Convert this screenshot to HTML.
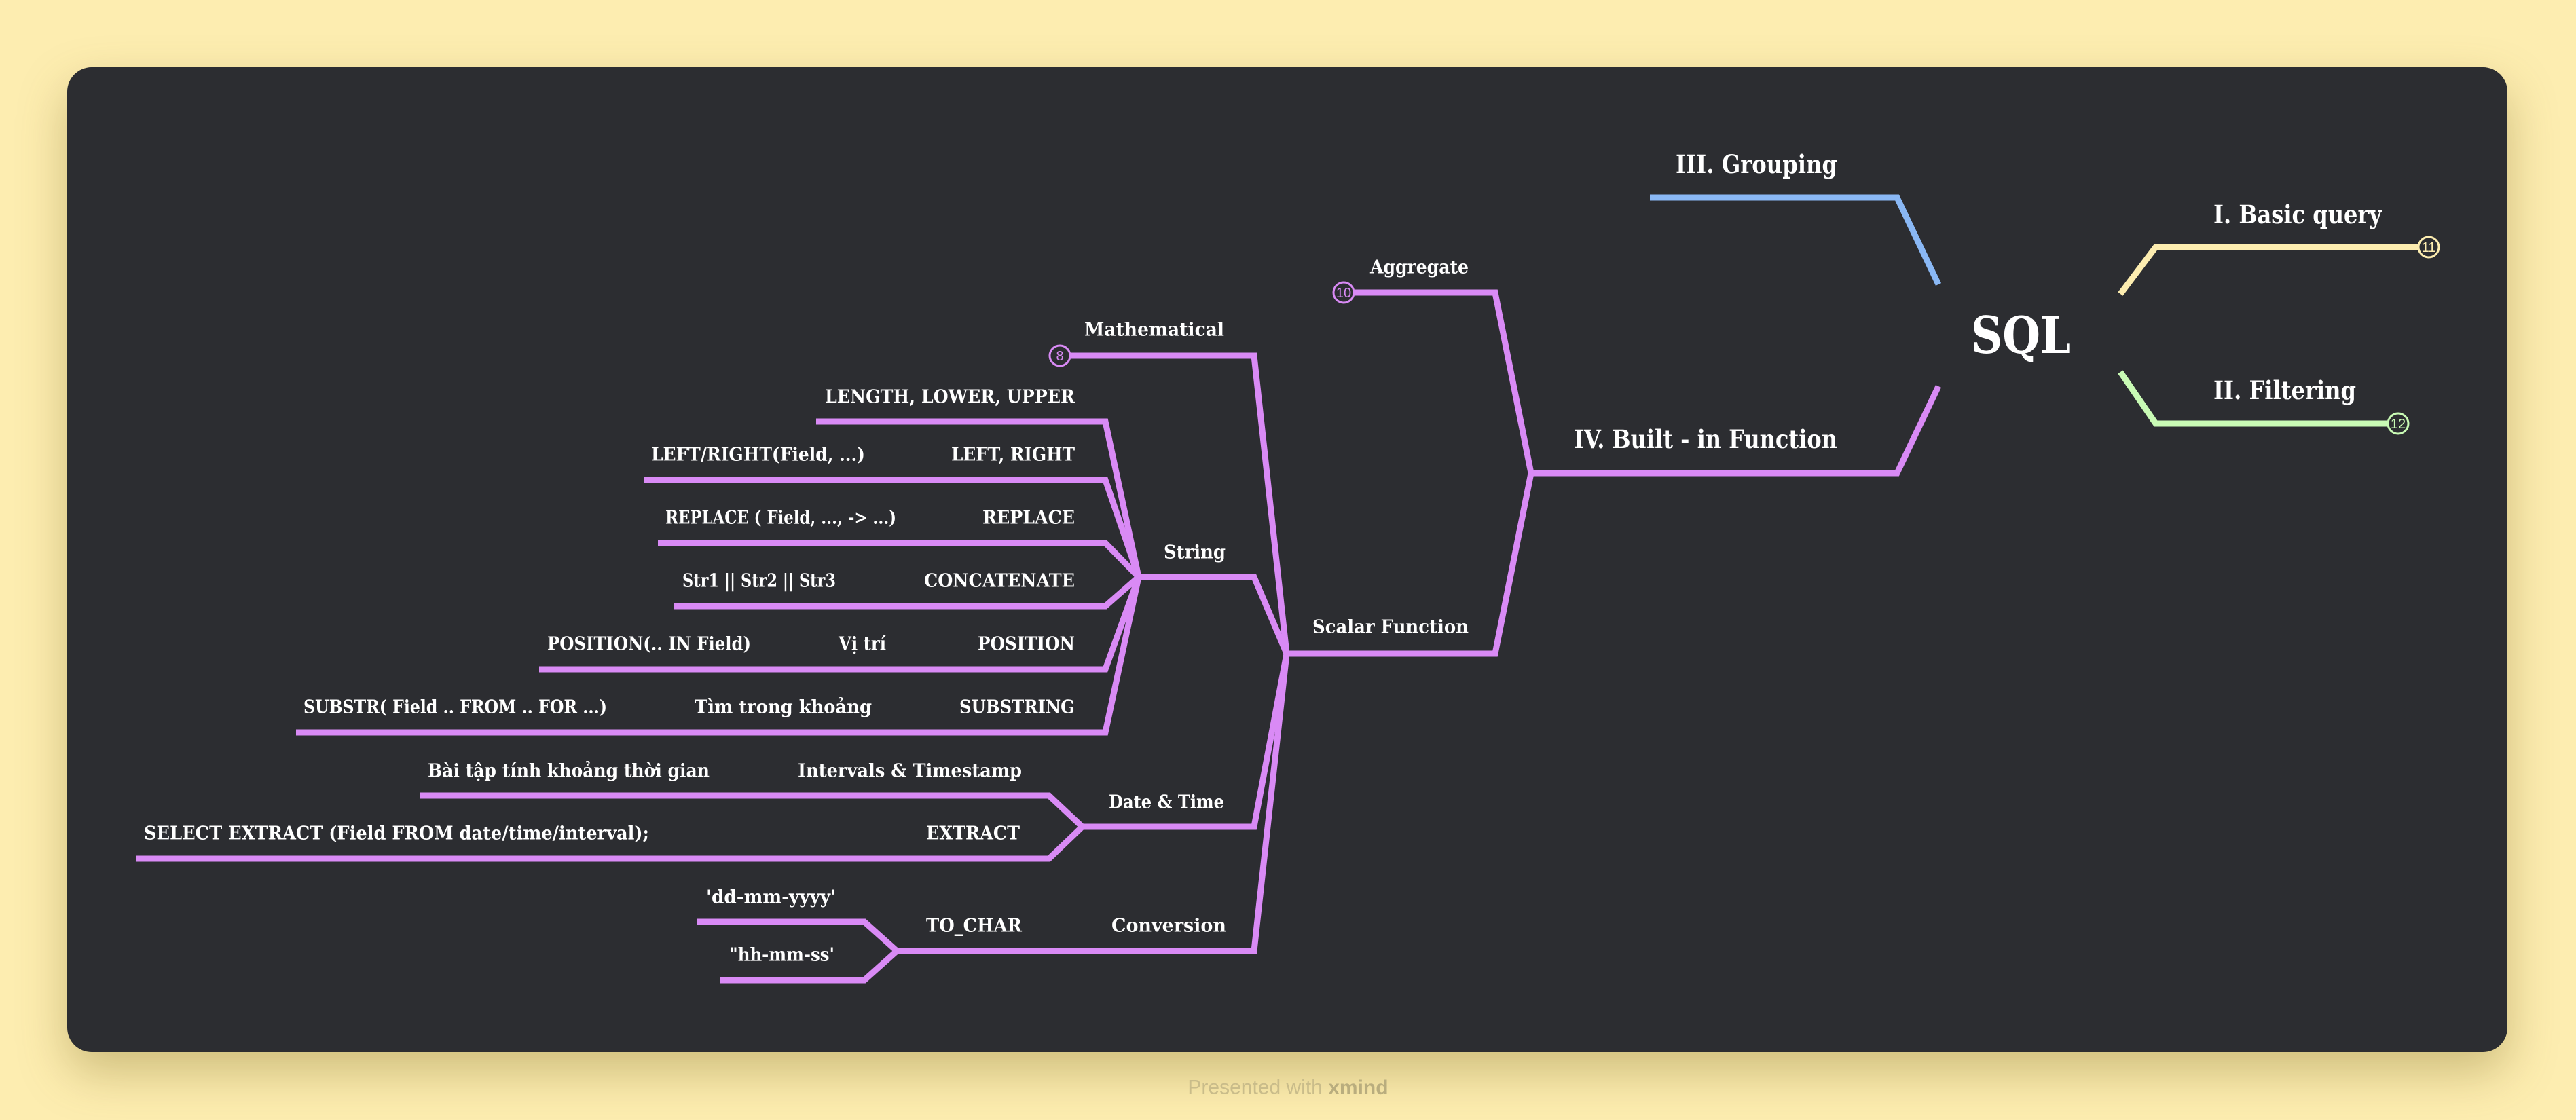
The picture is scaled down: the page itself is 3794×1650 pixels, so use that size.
<!DOCTYPE html>
<html><head><meta charset="utf-8"><style>
html,body{margin:0;padding:0;background:#fdedb0;width:3794px;height:1650px;overflow:hidden}
.card{position:absolute;left:99px;top:99px;width:3594px;height:1451px;background:#2c2d31;border-radius:36px;box-shadow:0 30px 70px rgba(120,100,30,0.35)}
svg{position:absolute;left:0;top:0}
text{font-family:"DejaVu Serif","Liberation Serif",serif;font-weight:bold;fill:#ffffff;dominant-baseline:central}
.s{font-size:27px}
.m{font-size:37px}
.n{font-family:"Liberation Sans",sans-serif;font-weight:normal;font-size:20px;text-anchor:middle}
</style></head><body>
<div class="card"></div>
<svg width="3794" height="1650" viewBox="0 0 3794 1650">
<g fill="none" stroke-width="9" stroke-linejoin="miter">
<polyline stroke="#8ab8f5" points="2430,291 2794,291 2855,419"/>
<polyline stroke="#fdedb0" points="3123,433 3175,364 3563,364"/>
<polyline stroke="#c9fbb5" points="3123,548 3175,624 3518,624"/>
<g stroke="#d98af5">
<polyline points="2855,569 2794,697 2255,697"/>
<polyline points="2255,697 2202,431 1993,431"/>
<polyline points="2255,697 2202,963 1895,963"/>
<polyline points="1895,963 1847,524 1576,524"/>
<polyline points="1895,963 1847,850 1677,850"/>
<polyline points="1895,963 1847,1218 1594,1218"/>
<polyline points="1895,963 1847,1401 1321,1401"/>
<polyline points="1677,850 1628,621 1202,621"/>
<polyline points="1677,850 1628,707 948,707"/>
<polyline points="1677,850 1628,800 969,800"/>
<polyline points="1677,850 1628,893 992,893"/>
<polyline points="1677,850 1628,986 794,986"/>
<polyline points="1677,850 1628,1079 436,1079"/>
<polyline points="1594,1218 1545,1172 618,1172"/>
<polyline points="1594,1218 1545,1265 200,1265"/>
<polyline points="1321,1401 1273,1358 1026,1358"/>
<polyline points="1321,1401 1273,1444 1060,1444"/>
</g>
</g>
<g stroke-width="3" fill="#2c2d31">
<circle cx="3577" cy="364" r="15" stroke="#fdedb0"/>
<circle cx="3532" cy="624" r="15" stroke="#c9fbb5"/>
<circle cx="1979" cy="431" r="15" stroke="#d98af5"/>
<circle cx="1561" cy="524" r="15" stroke="#d98af5"/>
</g>
<text class="n" x="3577" y="365" style="fill:#fdedb0">11</text>
<text class="n" x="3532" y="625" style="fill:#c9fbb5">12</text>
<text class="n" x="1979" y="432" style="fill:#d98af5">10</text>
<text class="n" x="1561" y="525" style="fill:#d98af5">8</text>

<text x="2903" y="494" style="font-size:75px" textLength="147" lengthAdjust="spacingAndGlyphs">SQL</text>
<text class="m" x="2468" y="242" textLength="238" lengthAdjust="spacingAndGlyphs">III. Grouping</text>
<text class="m" x="3260" y="316" textLength="248" lengthAdjust="spacingAndGlyphs">I. Basic query</text>
<text class="m" x="3260" y="575" textLength="210" lengthAdjust="spacingAndGlyphs">II. Filtering</text>
<text class="m" x="2318" y="647" textLength="388" lengthAdjust="spacingAndGlyphs">IV. Built - in Function</text>

<text class="s" x="2018" y="394" textLength="145" lengthAdjust="spacingAndGlyphs">Aggregate</text>
<text class="s" x="1933" y="924" textLength="230" lengthAdjust="spacingAndGlyphs">Scalar Function</text>
<text class="s" x="1597" y="486" textLength="206" lengthAdjust="spacingAndGlyphs">Mathematical</text>
<text class="s" x="1714" y="814" textLength="91" lengthAdjust="spacingAndGlyphs">String</text>
<text class="s" x="1633" y="1182" textLength="170" lengthAdjust="spacingAndGlyphs">Date &amp; Time</text>
<text class="s" x="1637" y="1364" textLength="169" lengthAdjust="spacingAndGlyphs">Conversion</text>

<text class="s" x="1215" y="585" textLength="368" lengthAdjust="spacingAndGlyphs">LENGTH, LOWER, UPPER</text>
<text class="s" x="959" y="670" textLength="315" lengthAdjust="spacingAndGlyphs">LEFT/RIGHT(Field, ...)</text>
<text class="s" x="1401" y="670" textLength="182" lengthAdjust="spacingAndGlyphs">LEFT, RIGHT</text>
<text class="s" x="980" y="763" textLength="340" lengthAdjust="spacingAndGlyphs">REPLACE ( Field, ..., -&gt; ...)</text>
<text class="s" x="1447" y="763" textLength="136" lengthAdjust="spacingAndGlyphs">REPLACE</text>
<text class="s" x="1005" y="856" textLength="226" lengthAdjust="spacingAndGlyphs">Str1 || Str2 || Str3</text>
<text class="s" x="1361" y="856" textLength="222" lengthAdjust="spacingAndGlyphs">CONCATENATE</text>
<text class="s" x="806" y="949" textLength="300" lengthAdjust="spacingAndGlyphs">POSITION(.. IN Field)</text>
<text class="s" x="1235" y="949" textLength="70" lengthAdjust="spacingAndGlyphs">Vị trí</text>
<text class="s" x="1440" y="949" textLength="143" lengthAdjust="spacingAndGlyphs">POSITION</text>
<text class="s" x="447" y="1042" textLength="447" lengthAdjust="spacingAndGlyphs">SUBSTR( Field .. FROM .. FOR ...)</text>
<text class="s" x="1023" y="1042" textLength="261" lengthAdjust="spacingAndGlyphs">Tìm trong khoảng</text>
<text class="s" x="1413" y="1042" textLength="170" lengthAdjust="spacingAndGlyphs">SUBSTRING</text>

<text class="s" x="630" y="1136" textLength="415" lengthAdjust="spacingAndGlyphs">Bài tập tính khoảng thời gian</text>
<text class="s" x="1175" y="1136" textLength="330" lengthAdjust="spacingAndGlyphs">Intervals &amp; Timestamp</text>
<text class="s" x="212" y="1228" textLength="744" lengthAdjust="spacingAndGlyphs">SELECT EXTRACT (Field FROM date/time/interval);</text>
<text class="s" x="1364" y="1228" textLength="138" lengthAdjust="spacingAndGlyphs">EXTRACT</text>

<text class="s" x="1040" y="1322" textLength="191" lengthAdjust="spacingAndGlyphs">'dd-mm-yyyy'</text>
<text class="s" x="1364" y="1364" textLength="141" lengthAdjust="spacingAndGlyphs">TO_CHAR</text>
<text class="s" x="1074" y="1407" textLength="155" lengthAdjust="spacingAndGlyphs">"hh-mm-ss'</text>

<text x="1897" y="1602" style="font-family:'Liberation Sans',sans-serif;font-weight:normal;font-size:30px;fill:#c9bc8a;text-anchor:middle">Presented with <tspan style="font-weight:bold;fill:#b9ad7e">xmind</tspan></text>
</svg>
</body></html>
